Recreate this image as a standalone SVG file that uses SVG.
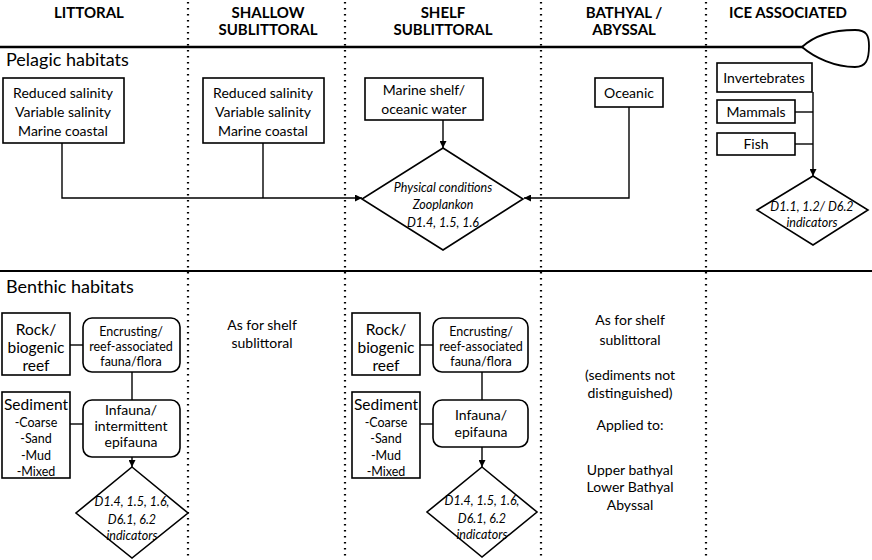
<svg xmlns="http://www.w3.org/2000/svg" width="872" height="560" viewBox="0 0 872 560">
<defs>
<marker id="ah" viewBox="0 0 10 10" refX="10" refY="5" markerWidth="7" markerHeight="7" markerUnits="userSpaceOnUse" orient="auto">
<path d="M0,0 L10,5 L0,10 Z" fill="#000"/>
</marker>
<style>
text{font-family:Lato,"Liberation Sans",sans-serif;fill:#000;text-anchor:middle}
.hd{font-weight:bold;font-size:15px}
.sec{font-size:18px;text-anchor:start}
.bx{font-size:14px}
.sm{font-size:12.5px}
.big{font-size:15.5px}
.it{font-style:italic;font-size:12.5px}
.box{fill:#fff;stroke:#000;stroke-width:1.6}
.dot{stroke:#000;stroke-width:2.2;stroke-dasharray:1.6 4.4}
.ln{fill:none;stroke:#000;stroke-width:1.4}
.ar{fill:none;stroke:#000;stroke-width:1.4;marker-end:url(#ah)}
</style>
</defs>
<rect width="872" height="560" fill="#fff"/>
<g id="dividers">
<line class="dot" x1="188" y1="2" x2="188" y2="560"/>
<line class="dot" x1="345" y1="2" x2="345" y2="560"/>
<line class="dot" x1="541" y1="2" x2="541" y2="560"/>
<line class="dot" x1="706" y1="2" x2="706" y2="560"/>
<line x1="0" y1="47" x2="803" y2="47" stroke="#000" stroke-width="2.4"/>
<path d="M802,47 C815,35 835,30 855,30 C867,30 869,36 869,46 C869,60 866,67 855,67 C835,67 815,58 802,47 Z" fill="#fff" stroke="#000" stroke-width="1.8"/>
<line x1="0" y1="271" x2="872" y2="271" stroke="#000" stroke-width="2"/>
</g>
<g id="headers">
<text class="hd" x="89" y="18">LITTORAL</text>
<text class="hd" x="268" y="18">SHALLOW</text>
<text class="hd" x="268" y="35">SUBLITTORAL</text>
<text class="hd" x="443" y="18">SHELF</text>
<text class="hd" x="443" y="35">SUBLITTORAL</text>
<text class="hd" x="624" y="18">BATHYAL /</text>
<text class="hd" x="624" y="35">ABYSSAL</text>
<text class="hd" x="788" y="18">ICE ASSOCIATED</text>
<text class="sec" x="6" y="66">Pelagic habitats</text>
<text class="sec" x="6" y="293">Benthic habitats</text>
</g>
<g id="connectors">
<polyline class="ar" points="62,143 62,198 362,198"/>
<line class="ln" x1="263" y1="143" x2="263" y2="198"/>
<line class="ar" x1="443" y1="120" x2="443" y2="148"/>
<polyline class="ar" points="629,107 629,198 524,198"/>
<line class="ar" x1="813" y1="92" x2="813" y2="176"/>
<line class="ln" x1="795" y1="112" x2="813" y2="112"/>
<line class="ln" x1="795" y1="144" x2="813" y2="144"/>
<line class="ln" x1="70" y1="345" x2="83" y2="345"/>
<line class="ln" x1="132" y1="372" x2="132" y2="400"/>
<line class="ln" x1="70" y1="424" x2="83" y2="424"/>
<line class="ar" x1="132" y1="457" x2="132" y2="467"/>
<line class="ln" x1="420" y1="345" x2="433" y2="345"/>
<line class="ln" x1="482" y1="372" x2="482" y2="400"/>
<line class="ln" x1="420" y1="424" x2="433" y2="424"/>
<line class="ar" x1="482" y1="447" x2="482" y2="467"/>
</g>
<g id="littoral-pelagic">
<rect class="box" x="3" y="78" width="121" height="65"/>
<text class="bx" x="63" y="98">Reduced salinity</text>
<text class="bx" x="63" y="117">Variable salinity</text>
<text class="bx" x="63" y="136">Marine coastal</text>
</g>
<g id="shallow-pelagic">
<rect class="box" x="203" y="78" width="121" height="65"/>
<text class="bx" x="263" y="98">Reduced salinity</text>
<text class="bx" x="263" y="117">Variable salinity</text>
<text class="bx" x="263" y="136">Marine coastal</text>
</g>
<g id="shelf-pelagic">
<rect class="box" x="365" y="78" width="118" height="42"/>
<text class="bx" x="424" y="95">Marine shelf/</text>
<text class="bx" x="424" y="114">oceanic water</text>
</g>
<g id="oceanic">
<rect class="box" x="595" y="78" width="68" height="29"/>
<text class="bx" x="629" y="98">Oceanic</text>
</g>
<g id="pelagic-diamond">
<polygon class="box" points="443,148 523,199 443,250 362,199"/>
<text class="it" x="443" y="192">Physical conditions</text>
<text class="it" x="443" y="209">Zooplankon</text>
<text class="it" x="443" y="227">D1.4, 1.5, 1.6</text>
</g>
<g id="invertebrates">
<rect class="box" x="717" y="63" width="95" height="29"/>
<text class="bx" x="764" y="83">Invertebrates</text>
</g>
<g id="mammals">
<rect class="box" x="717" y="100" width="78" height="23"/>
<text class="bx" x="756" y="117">Mammals</text>
</g>
<g id="fish">
<rect class="box" x="717" y="133" width="78" height="22"/>
<text class="bx" x="756" y="149">Fish</text>
</g>
<g id="ice-diamond">
<polygon class="box" points="813,176 868,210 813,245 757,210"/>
<text class="it" x="812" y="211">D1.1, 1.2/ D6.2</text>
<text class="it" x="812" y="227">indicators</text>
</g>
<g id="littoral-rock">
<rect class="box" x="2" y="313" width="68" height="62"/>
<text class="big" x="36" y="335">Rock/</text>
<text class="big" x="36" y="353">biogenic</text>
<text class="big" x="36" y="371">reef</text>
</g>
<g id="littoral-encrusting">
<rect class="box" x="83" y="318" width="97" height="54" rx="9"/>
<text class="sm" x="131" y="336">Encrusting/</text>
<text class="sm" x="131" y="351">reef-associated</text>
<text class="sm" x="131" y="366">fauna/flora</text>
</g>
<g id="littoral-sediment">
<rect class="box" x="2" y="392" width="68" height="86"/>
<text class="big" x="36" y="410">Sediment</text>
<text class="sm" x="36" y="427">-Coarse</text>
<text class="sm" x="36" y="443">-Sand</text>
<text class="sm" x="36" y="460">-Mud</text>
<text class="sm" x="36" y="476">-Mixed</text>
</g>
<g id="littoral-infauna">
<rect class="box" x="83" y="400" width="97" height="57" rx="9"/>
<text class="bx" x="131" y="415">Infauna/</text>
<text class="bx" x="131" y="431">intermittent</text>
<text class="bx" x="131" y="447">epifauna</text>
</g>
<g id="littoral-diamond">
<polygon class="box" points="132,467 188,513 132,558 76,513"/>
<text class="it" x="132" y="506">D1.4, 1.5, 1.6,</text>
<text class="it" x="132" y="524">D6.1, 6.2</text>
<text class="it" x="132" y="540">indicators</text>
</g>
<g id="shallow-benthic">
<text class="bx" x="262" y="330">As for shelf</text>
<text class="bx" x="262" y="348">sublittoral</text>
</g>
<g id="shelf-rock">
<rect class="box" x="352" y="313" width="68" height="62"/>
<text class="big" x="386" y="335">Rock/</text>
<text class="big" x="386" y="353">biogenic</text>
<text class="big" x="386" y="371">reef</text>
</g>
<g id="shelf-encrusting">
<rect class="box" x="433" y="318" width="95" height="54" rx="9"/>
<text class="sm" x="481" y="336">Encrusting/</text>
<text class="sm" x="481" y="351">reef-associated</text>
<text class="sm" x="481" y="366">fauna/flora</text>
</g>
<g id="shelf-sediment">
<rect class="box" x="352" y="392" width="68" height="86"/>
<text class="big" x="386" y="410">Sediment</text>
<text class="sm" x="386" y="427">-Coarse</text>
<text class="sm" x="386" y="443">-Sand</text>
<text class="sm" x="386" y="460">-Mud</text>
<text class="sm" x="386" y="476">-Mixed</text>
</g>
<g id="shelf-infauna">
<rect class="box" x="433" y="400" width="95" height="47" rx="9"/>
<text class="bx" x="481" y="420">Infauna/</text>
<text class="bx" x="481" y="437">epifauna</text>
</g>
<g id="shelf-diamond">
<polygon class="box" points="482,467 537,512 482,557 427,512"/>
<text class="it" x="482" y="505">D1.4, 1.5, 1.6,</text>
<text class="it" x="482" y="523">D6.1, 6.2</text>
<text class="it" x="482" y="539">indicators</text>
</g>
<g id="bathyal-benthic">
<text class="bx" x="630" y="325">As for shelf</text>
<text class="bx" x="630" y="345">sublittoral</text>
<text class="bx" x="630" y="380">(sediments not</text>
<text class="bx" x="630" y="398">distinguished)</text>
<text class="bx" x="630" y="430">Applied to:</text>
<text class="bx" x="630" y="475">Upper bathyal</text>
<text class="bx" x="630" y="492">Lower Bathyal</text>
<text class="bx" x="630" y="510">Abyssal</text>
</g>
</svg>
